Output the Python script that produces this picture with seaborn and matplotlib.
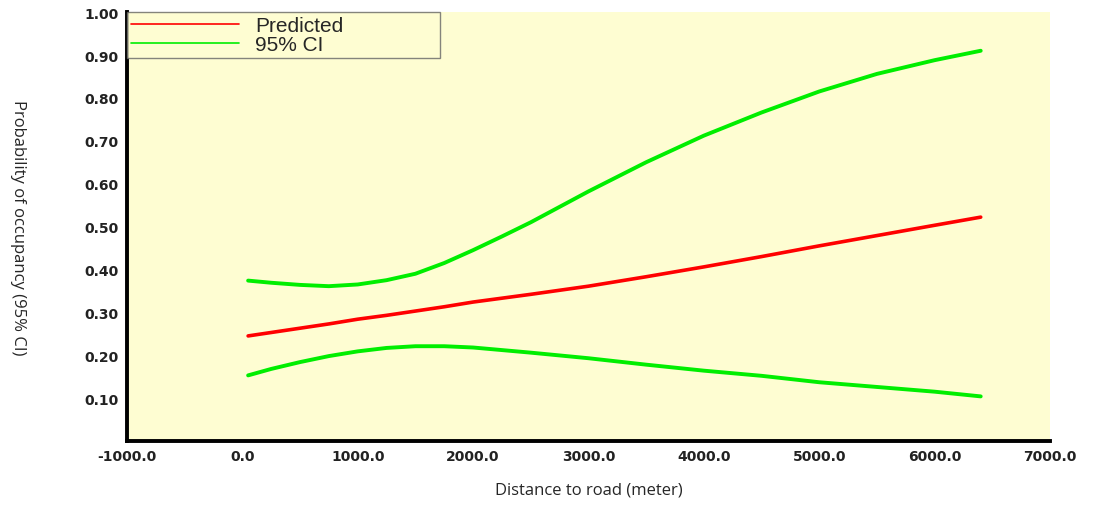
import matplotlib
matplotlib.use("Agg")
import matplotlib.pyplot as plt
import seaborn as sns
import pandas as pd

# Distance to road (m) and fitted occupancy with 95% confidence band
distance = [50, 250, 500, 750, 1000, 1250, 1500, 1750, 2000, 2250, 2500,
            3000, 3500, 4000, 4500, 5000, 5500, 6000, 6400]
predicted = [0.245, 0.253, 0.263, 0.273, 0.284, 0.293, 0.303, 0.313, 0.324, 0.333, 0.342,
             0.361, 0.383, 0.406, 0.430, 0.455, 0.479, 0.503, 0.522]
ci_upper = [0.374, 0.369, 0.364, 0.361, 0.365, 0.375, 0.390, 0.415, 0.445, 0.477, 0.510,
            0.582, 0.650, 0.712, 0.766, 0.815, 0.856, 0.888, 0.910]
ci_lower = [0.153, 0.168, 0.184, 0.198, 0.209, 0.217, 0.221, 0.221, 0.218, 0.212, 0.206,
            0.193, 0.178, 0.164, 0.152, 0.137, 0.126, 0.115, 0.104]

x_ticks = [-1000, 0, 1000, 2000, 3000, 4000, 5000, 6000, 7000]
y_ticks = [0.10, 0.20, 0.30, 0.40, 0.50, 0.60, 0.70, 0.80, 0.90, 1.00]

df = pd.DataFrame({"distance": distance, "predicted": predicted,
                   "upper": ci_upper, "lower": ci_lower})

sns.set_style("white")
plt.rcParams["font.family"] = ["DejaVu Sans"]

fig = plt.figure(figsize=(11.08, 5.06), dpi=100)
ax = fig.add_axes([0.1146, 0.1265, 0.8330, 0.8475])
ax.set_facecolor("#FEFDD2")

sns.lineplot(data=df, x="distance", y="predicted", ax=ax, color="#FF0000", lw=2.6, label="Predicted")
sns.lineplot(data=df, x="distance", y="upper", ax=ax, color="#00EE00", lw=2.8, label="95% CI")
sns.lineplot(data=df, x="distance", y="lower", ax=ax, color="#00EE00", lw=2.8, label="_nolegend_")

ax.set_xlim(-1000, 7000)
ax.set_ylim(0, 1.0)
ax.set_xticks(x_ticks)
ax.set_xticklabels([f"{v:.1f}" for v in x_ticks])
ax.set_yticks(y_ticks)
ax.set_yticklabels([f"{v:.2f}" for v in y_ticks])

for side in ["top", "right"]:
    ax.spines[side].set_visible(False)
for side in ["left", "bottom"]:
    ax.spines[side].set_linewidth(2.8)
    ax.spines[side].set_color("black")

ax.tick_params(axis="both", direction="out", length=4, width=2.8, color="black",
               labelsize=10, pad=2)
for lab in ax.get_xticklabels() + ax.get_yticklabels():
    lab.set_fontweight("bold")
    lab.set_color("#222222")

ax.set_xlabel("Distance to road (meter)", fontsize=12, family="Open Sans", labelpad=13)
ax.set_ylabel("Probability of occupancy (95% CI)", fontsize=12, family="Open Sans",
              rotation=-90, va="center")
ax.yaxis.set_label_coords(-0.118, 0.5)

leg = ax.legend(loc="upper left", bbox_to_anchor=(0.0, 1.0, 0.339, 0.0), mode="expand",
                frameon=True, fontsize=15, borderaxespad=0, handlelength=5.2,
                handletextpad=0.75, borderpad=0.2, labelspacing=0.0, fancybox=False)
leg.get_frame().set_facecolor("#FEFDD2")
leg.get_frame().set_edgecolor("#666666")
leg.get_frame().set_linewidth(1.0)
for line in leg.get_lines():
    line.set_linewidth(1.2)
for t in leg.get_texts():
    t.set_family("Liberation Sans")

fig.savefig("out.png", dpi=100, facecolor="white")
